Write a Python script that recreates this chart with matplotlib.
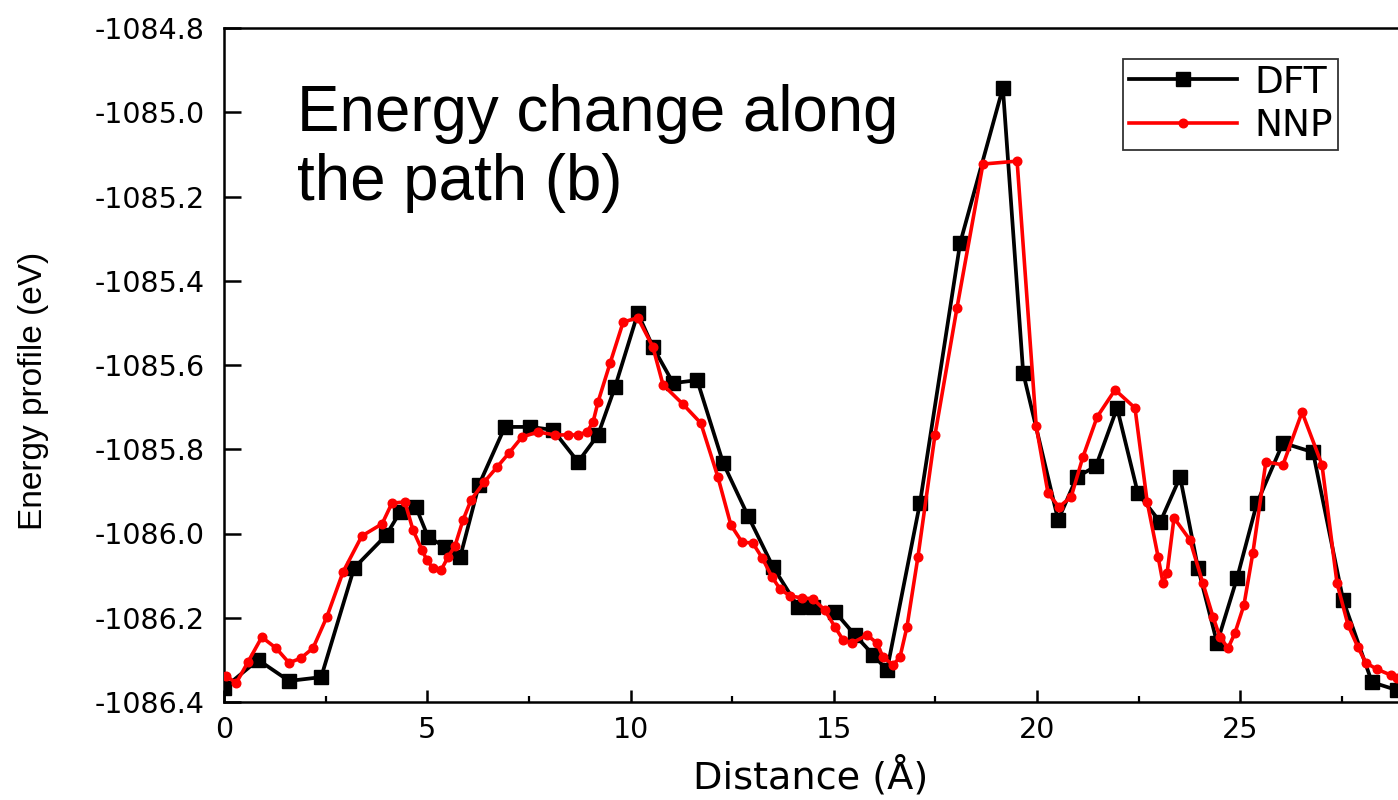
import matplotlib
matplotlib.use("Agg")
import matplotlib.pyplot as plt
from matplotlib.ticker import MultipleLocator, FixedLocator

# DFT reference energies along the path
dft_x = [0.00, 0.84, 1.60, 2.39, 3.20, 3.99, 4.33, 4.72, 5.02, 5.44,
         5.81, 6.27, 6.91, 7.53, 8.09, 8.71, 9.20, 9.62, 10.18, 10.55,
         11.05, 11.64, 12.28, 12.89, 13.51, 14.12, 14.49, 15.03, 15.52, 15.97,
         16.31, 17.12, 18.11, 19.16, 19.66, 20.52, 20.98, 21.45, 21.97, 22.48,
         23.03, 23.52, 23.96, 24.43, 24.92, 25.41, 26.05, 26.79, 27.53, 28.24,
         28.86]
dft_e = [-1086.367, -1086.300, -1086.350, -1086.341, -1086.082, -1086.004, -1085.949, -1085.937, -1086.008, -1086.032,
         -1086.056, -1085.885, -1085.747, -1085.747, -1085.754, -1085.830, -1085.766, -1085.652, -1085.477, -1085.557,
         -1085.643, -1085.636, -1085.833, -1085.958, -1086.080, -1086.174, -1086.174, -1086.186, -1086.241, -1086.288,
         -1086.324, -1085.928, -1085.310, -1084.942, -1085.619, -1085.968, -1085.866, -1085.840, -1085.702, -1085.904,
         -1085.973, -1085.866, -1086.082, -1086.260, -1086.106, -1085.928, -1085.785, -1085.807, -1086.158, -1086.353,
         -1086.372]

# Neural-network potential energies along the same path
nnp_x = [0.05, 0.30, 0.59, 0.93, 1.28, 1.60, 1.89, 2.19, 2.53, 2.93,
         3.39, 3.89, 4.13, 4.45, 4.65, 4.87, 4.99, 5.14, 5.34, 5.51,
         5.68, 5.88, 6.08, 6.40, 6.72, 7.01, 7.33, 7.72, 8.14, 8.46,
         8.71, 8.93, 9.08, 9.20, 9.50, 9.82, 10.18, 10.55, 10.80, 11.29,
         11.73, 12.15, 12.47, 12.74, 13.01, 13.24, 13.48, 13.68, 13.92, 14.22,
         14.49, 14.78, 15.03, 15.23, 15.45, 15.82, 16.06, 16.21, 16.46, 16.63,
         16.80, 17.07, 17.49, 18.03, 18.67, 19.51, 19.98, 20.27, 20.54, 20.84,
         21.13, 21.48, 21.92, 22.41, 22.71, 22.98, 23.10, 23.20, 23.37, 23.76,
         24.08, 24.33, 24.50, 24.70, 24.87, 25.09, 25.31, 25.63, 26.05, 26.52,
         27.01, 27.38, 27.65, 27.89, 28.09, 28.36, 28.70, 28.86]
nnp_e = [-1086.338, -1086.355, -1086.305, -1086.246, -1086.272, -1086.307, -1086.296, -1086.272, -1086.198, -1086.091,
         -1086.006, -1085.977, -1085.928, -1085.925, -1085.992, -1086.039, -1086.063, -1086.082, -1086.087, -1086.056,
         -1086.030, -1085.968, -1085.920, -1085.878, -1085.842, -1085.809, -1085.771, -1085.759, -1085.766, -1085.766,
         -1085.766, -1085.759, -1085.735, -1085.688, -1085.595, -1085.498, -1085.488, -1085.557, -1085.647, -1085.693,
         -1085.738, -1085.866, -1085.980, -1086.020, -1086.023, -1086.058, -1086.103, -1086.132, -1086.148, -1086.153,
         -1086.155, -1086.182, -1086.222, -1086.253, -1086.260, -1086.241, -1086.260, -1086.293, -1086.312, -1086.293,
         -1086.222, -1086.056, -1085.766, -1085.465, -1085.123, -1085.116, -1085.745, -1085.904, -1085.937, -1085.913,
         -1085.818, -1085.723, -1085.659, -1085.702, -1085.925, -1086.056, -1086.118, -1086.094, -1085.963, -1086.015,
         -1086.118, -1086.198, -1086.246, -1086.272, -1086.236, -1086.170, -1086.046, -1085.830, -1085.837, -1085.712,
         -1085.837, -1086.118, -1086.217, -1086.269, -1086.307, -1086.322, -1086.336, -1086.343]

y_ticks = [-1086.4, -1086.2, -1086.0, -1085.8, -1085.6, -1085.4, -1085.2, -1085.0, -1084.8]
x_ticks = [0, 5, 10, 15, 20, 25]

W, H = 1398, 800
fig = plt.figure(figsize=(W / 100, H / 100), dpi=100)
ax = fig.add_axes([224 / W, (H - 702) / H, (W - 224) / W, (702 - 28) / H])

ax.plot(dft_x, dft_e, color="black", lw=2.7, marker="s", ms=9.5,
        mfc="black", mec="black", label="DFT", zorder=2)
ax.plot(nnp_x, nnp_e, color="#ff0000", lw=2.6, marker="o", ms=6.2,
        mfc="#ff0000", mec="#ff0000", label="NNP", zorder=3)

ax.set_xlim(0, 28.88)
ax.set_ylim(-1086.4, -1084.8)
ax.xaxis.set_major_locator(FixedLocator(x_ticks))
ax.xaxis.set_minor_locator(MultipleLocator(2.5))
ax.yaxis.set_major_locator(FixedLocator(y_ticks))
ax.set_yticklabels([f"{v:.1f}" for v in y_ticks])
ax.set_xticklabels([str(v) for v in x_ticks])

for lab in ax.get_xticklabels() + ax.get_yticklabels():
    lab.set_fontfamily("DejaVu Sans")
    lab.set_fontsize(20.5)

ax.tick_params(axis="y", which="major", direction="in", length=12, width=1.8,
               pad=14, left=True, right=False)
ax.tick_params(axis="x", which="major", direction="in", length=8.5, width=1.8,
               pad=10, top=False)
ax.tick_params(axis="x", which="minor", direction="in", length=4, width=1.6, top=False)

for side in ("left", "bottom", "top"):
    ax.spines[side].set_linewidth(1.8)
ax.spines["right"].set_visible(False)

ax.set_xlabel("Distance (Å)", fontfamily="DejaVu Sans", fontsize=27.5, labelpad=9)
ax.set_ylabel("Energy profile (eV)", fontfamily="Liberation Sans", fontsize=24)
ax.yaxis.set_label_coords((33 - 224) / (W - 224), 1 - (391 - 28) / (702 - 28))
ax.yaxis.label.set_verticalalignment("center")

fig.text(297 / W, 1 - 84 / H, "Energy change along\nthe path (b)",
         fontfamily="Liberation Sans", fontsize=45.8, ha="left", va="top",
         linespacing=1.2)

leg = ax.legend(loc="upper left",
                bbox_to_anchor=((1123 - 224) / (W - 224), 1 - (59 - 28) / (702 - 28)),
                borderaxespad=0, frameon=True, fancybox=False, shadow=False,
                prop={"family": "DejaVu Sans", "size": 27},
                handlelength=2.9, handletextpad=0.45, labelspacing=0.2,
                borderpad=0.15)
leg.get_frame().set_edgecolor("black")
leg.get_frame().set_linewidth(1.3)

fig.savefig("out.png", dpi=100)
